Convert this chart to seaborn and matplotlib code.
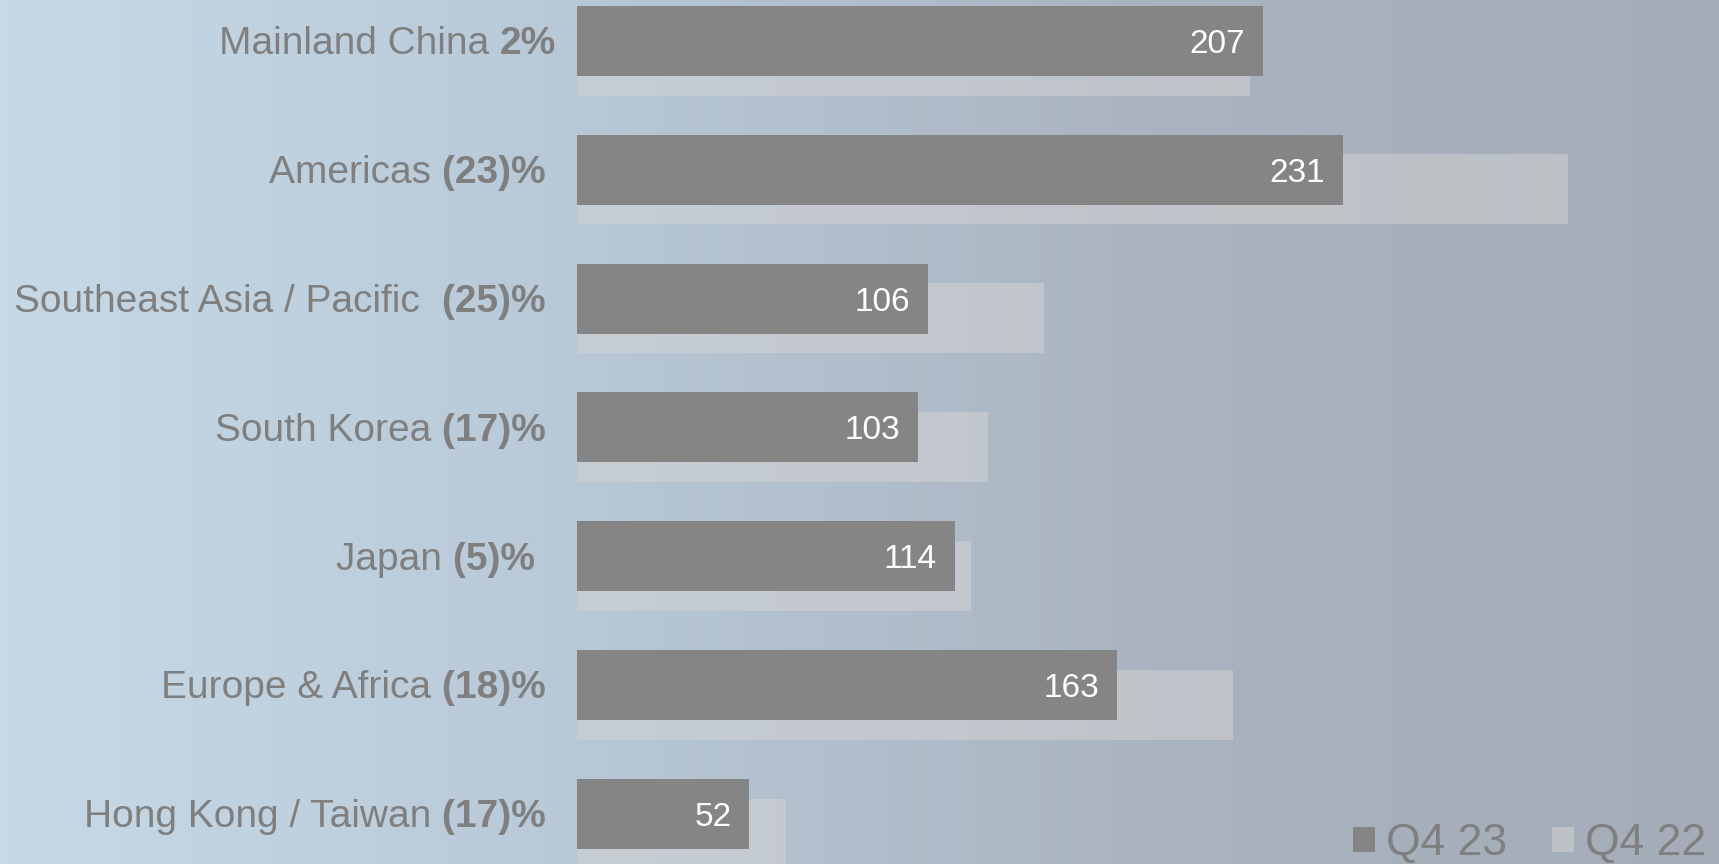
import numpy as np
import pandas as pd
import matplotlib
matplotlib.use('Agg')
import matplotlib.pyplot as plt
import matplotlib.transforms as mtransforms
from matplotlib.colors import LinearSegmentedColormap
import seaborn as sns

# --- dados (unidades, Q4 23 vs Q4 22) ---
regioes = ['Mainland China ', 'Americas ', 'Southeast Asia / Pacific  ', 'South Korea ',
           'Japan ', 'Europe & Africa ', 'Hong Kong / Taiwan ']
variacao = ['2%', '(23)% ', '(25)% ', '(17)% ', '(5)%  ', '(18)% ', '(17)% ']
q4_23 = [207, 231, 106, 103, 114, 163, 52]
q4_22 = [203, 299, 141, 124, 119, 198, 63]

df = pd.DataFrame({'regiao': regioes, 'q4_23': q4_23, 'q4_22': q4_22})
df['pos'] = np.arange(len(df), dtype=float)
df['pos_22'] = df['pos'] + 0.153

sns.set_theme(style='white')
plt.rcParams['font.family'] = ['Liberation Sans', 'DejaVu Sans']

W, H = 1719, 864
fig = plt.figure(figsize=(W / 100, H / 100), dpi=100)

# fundo em gradiente
bg = fig.add_axes([0, 0, 1, 1], zorder=-1)
cmap = LinearSegmentedColormap.from_list('fundo', ['#C7D9E7', '#B8C8D6', '#AAB4C0', '#A3ACB7'])
bg.imshow(np.linspace(0, 1, 256)[None, :], aspect='auto', cmap=cmap, extent=[0, 1, 0, 1])
bg.set_axis_off()

ax = fig.add_axes([577 / W, 0, 1 - 577 / W, 1])
ax.set_facecolor('none')

sns.barplot(data=df, x='q4_22', y='pos_22', orient='h', native_scale=True, width=0.543,
            color='#D2D2D2', saturation=1, alpha=0.55, errorbar=None, linewidth=0,
            label='Q4 22', ax=ax)
sns.barplot(data=df, x='q4_23', y='pos', orient='h', native_scale=True, width=0.543,
            color='#858585', saturation=1, errorbar=None, linewidth=0,
            label='Q4 23', ax=ax)

ax.set_xlim(0, (W - 577) / 3.315)
ax.set_ylim(6.39, -0.318)
ax.set_xlabel('')
ax.set_ylabel('')
ax.set_xticks([])
ax.set_yticks([])
sns.despine(ax=ax, left=True, bottom=True)

# valores dentro das barras
textos = ax.bar_label(ax.containers[1], padding=-13, color='white', fontsize=24)
for t in textos:
    t.set_ha('right')
    t.set_va('center_baseline')

# rótulos das regiões (parte normal + parte em negrito)
trans = mtransforms.blended_transform_factory(fig.transFigure, ax.transData)
fig.canvas.draw()
renderer = fig.canvas.get_renderer()
cor_txt = '#7F7F7F'
for i, (nome, var) in enumerate(zip(regioes, variacao)):
    tb = fig.text(556 / W, i + 0.105, var, ha='right', va='baseline', fontsize=28,
                  fontweight='bold', color=cor_txt, transform=trans)
    bb = tb.get_window_extent(renderer)
    fig.text(bb.x0 / W, i + 0.105, nome, ha='right', va='baseline', fontsize=28,
             color=cor_txt, transform=trans)

h, l = ax.get_legend_handles_labels()
ordem = [l.index('Q4 23'), l.index('Q4 22')]
ax.legend([h[k] for k in ordem], [l[k] for k in ordem], loc='lower right',
          bbox_to_anchor=(1706 / W, 0), bbox_transform=fig.transFigure, ncol=2,
          frameon=False, fontsize=32, handlelength=0.5, handleheight=0.5,
          handletextpad=0.25, columnspacing=1.0, borderpad=0, borderaxespad=0,
          labelcolor=cor_txt)

fig.savefig('out.png', dpi=100)
